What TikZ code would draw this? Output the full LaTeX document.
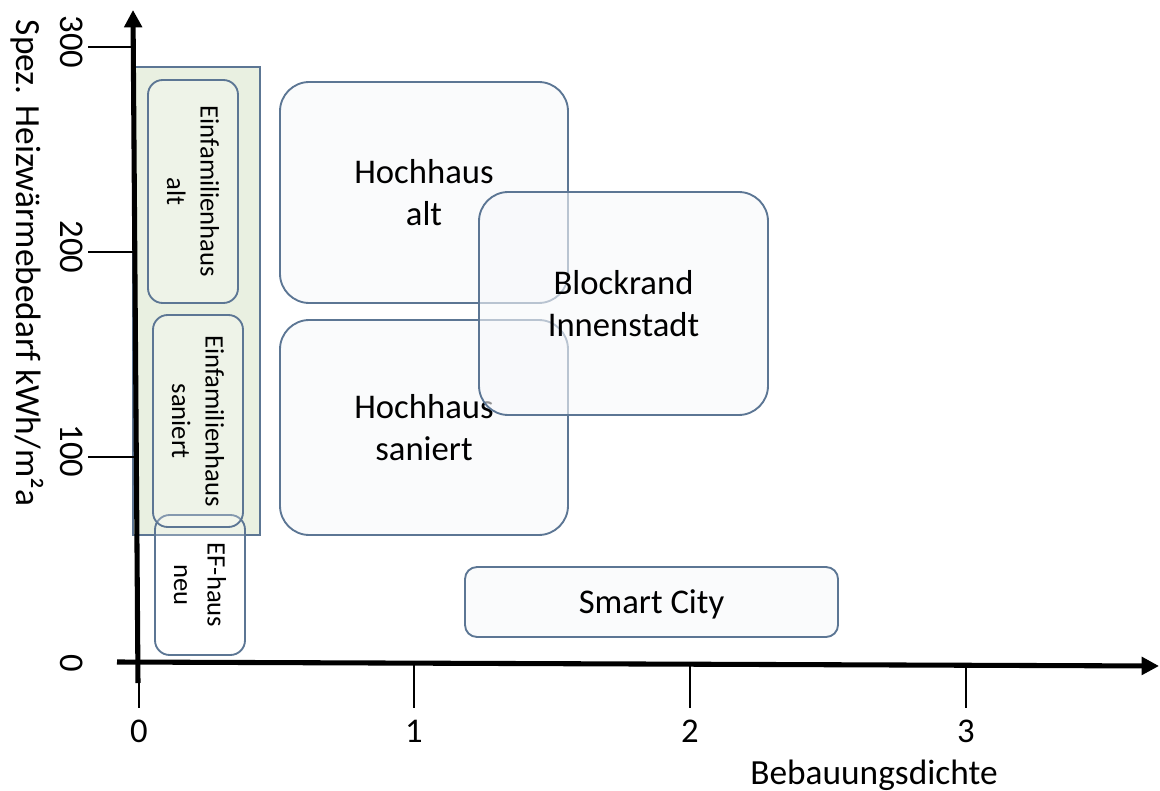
\documentclass[tikz,border=0pt]{standalone}
\usepackage{fontspec}
\setmainfont{Carlito}
\usetikzlibrary{arrows.meta}
\definecolor{boxline}{RGB}{92,118,148}
\definecolor{boxfill}{RGB}{247,248,250}
\definecolor{zonefill}{RGB}{233,240,225}
\tikzset{
  axisline/.style={line width=3.8pt, -{Triangle[length=13pt,width=13pt]}},
  tickline/.style={line width=0.8pt},
  ticklabel/.style={font=\fontsize{26}{31}\selectfont, inner sep=0pt},
  axislabel/.style={font=\fontsize{26.5}{31}\selectfont, inner sep=0pt},
  bigbox/.style={draw=boxline, line width=1.4pt, fill=boxfill, fill opacity=0.6, text opacity=1,
    rounded corners=22pt, align=center, font=\fontsize{26}{32}\selectfont, inner sep=0pt},
  smallbox/.style={draw=boxline, line width=1.4pt, fill=white, fill opacity=0.25, text opacity=1,
    rounded corners=11pt, align=center, rotate=-90, font=\fontsize{20}{25}\selectfont, inner sep=0pt},
  zone/.style={draw=boxline, line width=1.4pt, fill=zonefill},
}
\begin{document}
\begin{tikzpicture}[x=0.75pt, y=-0.75pt]
\useasboundingbox (0,0) rectangle (1160,791);

% single-family zone behind everything
\path[zone] (133,67) rectangle (260,535);

% axes
\coordinate (xstart) at (117,662);
\coordinate (xend) at (1159,666);
\coordinate (ystart) at (138,683);
\coordinate (yend) at (133,10);
\draw[axisline] (xstart) -- (xend);
\draw[axisline] (ystart) -- (yend);

% x ticks
\foreach \xv/\lab/\top in {139/0/683, 414/1/665, 690/2/666, 966/3/666}{
  \coordinate (xt\lab a) at (\xv,\top);
  \coordinate (xt\lab b) at (\xv,708);
  \draw[tickline] (xt\lab a) -- (xt\lab b);
  \node[ticklabel] (xl\lab) at (\xv,731) {\lab};
}
% y ticks
\foreach \yv/\lab/\ly in {47/300/42, 252/200/247, 457/100/451}{
  \coordinate (yt\lab a) at (88,\yv);
  \coordinate (yt\lab b) at (134,\yv);
  \draw[tickline] (yt\lab a) -- (yt\lab b);
  \node[ticklabel, rotate=-90] (yl\lab) at (72,\ly) {\lab};
}
\node[ticklabel, rotate=-90] (yl0) at (72,663) {0};

% axis titles
\node[axislabel] (xtitle) at (874,775) {Bebauungsdichte};
\node[axislabel, rotate=-90] (ytitle) at (27,263) {Spez. Heizwärmebedarf kWh/m²a};

% single-family houses
\node[smallbox, minimum width=105pt, minimum height=67.5pt] (efneu) at (200,585) {EF-haus\\neu};
\node[smallbox, minimum width=159pt, minimum height=67.5pt] (efsan) at (198,421) {Einfamilienhaus\\saniert};
\node[smallbox, minimum width=167.25pt, minimum height=67.5pt] (efalt) at (193,191.5) {Einfamilienhaus\\alt};

% high-rise and perimeter blocks
\node[bigbox, minimum width=216pt, minimum height=165.75pt] (hhalt) at (424,192.5) {Hochhaus\\alt};
\node[bigbox, minimum width=216pt, minimum height=161.25pt] (hhsan) at (424,427.5) {Hochhaus\\saniert};
\node[bigbox, minimum width=216.75pt, minimum height=167.25pt] (block) at (623.5,303.5) {Blockrand\\Innenstadt};
\node[bigbox, rounded corners=9pt, minimum width=279.75pt, minimum height=52.5pt,
      text depth=0pt] (smart) at (651.5,602) {Smart City};
\end{tikzpicture}
\end{document}
